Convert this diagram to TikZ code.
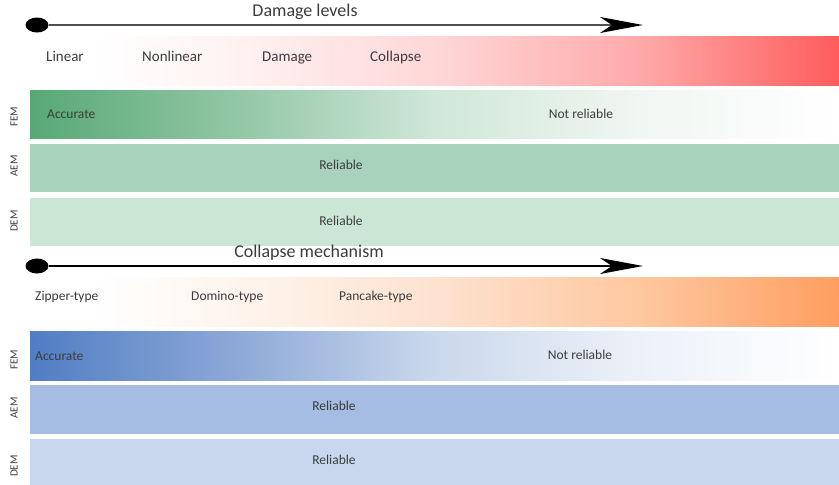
\documentclass[tikz,border=0pt]{standalone}
\usepackage{fontspec}
\setmainfont{Carlito}
\usetikzlibrary{arrows.meta, shapes.geometric}

\definecolor{txtgray}{RGB}{60,60,60}
\definecolor{linegray}{RGB}{80,80,80}
\definecolor{redlow}{RGB}{254,243,242}
\definecolor{redmid}{RGB}{255,215,215}
\definecolor{redhigh}{RGB}{255,170,170}
\definecolor{redend}{RGB}{255,92,92}
\definecolor{orglow}{RGB}{254,245,238}
\definecolor{orgmid}{RGB}{253,226,208}
\definecolor{orghigh}{RGB}{255,200,160}
\definecolor{orgend}{RGB}{255,158,96}
\definecolor{grnfem}{RGB}{88,168,118}
\definecolor{grnlow}{RGB}{145,198,164}
\definecolor{grnmid}{RGB}{208,231,217}
\definecolor{grnhigh}{RGB}{240,246,242}
\definecolor{grnaem}{RGB}{168,210,188}
\definecolor{grndem}{RGB}{204,230,214}
\definecolor{blufem}{RGB}{80,125,196}
\definecolor{blulow}{RGB}{140,168,214}
\definecolor{blumid}{RGB}{202,216,236}
\definecolor{bluhigh}{RGB}{236,241,248}
\definecolor{bluaem}{RGB}{165,189,226}
\definecolor{bludem}{RGB}{200,215,238}

\pgfdeclarehorizontalshading{redband}{100bp}{color(0bp)=(white); color(25bp)=(white);
  color(29bp)=(white); color(37.5bp)=(redlow); color(50bp)=(redmid); color(62.5bp)=(redhigh);
  color(75bp)=(redend); color(100bp)=(redend)}
\pgfdeclarehorizontalshading{orgband}{100bp}{color(0bp)=(white); color(25bp)=(white);
  color(29bp)=(white); color(37.5bp)=(orglow); color(50bp)=(orgmid); color(62.5bp)=(orghigh);
  color(75bp)=(orgend); color(100bp)=(orgend)}
\pgfdeclarehorizontalshading{grnrow}{100bp}{color(0bp)=(grnfem); color(25bp)=(grnfem);
  color(37.5bp)=(grnlow); color(50bp)=(grnmid); color(62.5bp)=(grnhigh);
  color(75bp)=(white); color(100bp)=(white)}
\pgfdeclarehorizontalshading{blurow}{100bp}{color(0bp)=(blufem); color(25bp)=(blufem);
  color(37.5bp)=(blulow); color(50bp)=(blumid); color(62.5bp)=(bluhigh);
  color(75bp)=(white); color(100bp)=(white)}

\begin{document}
\begin{tikzpicture}[x=1pt, y=-1pt,
    band/.style={rectangle, inner sep=0pt, minimum width=809pt, minimum height=49pt},
    rowbox/.style={rectangle, inner sep=0pt, minimum width=809pt, minimum height=48pt},
    txt/.style={text=txtgray, inner sep=0pt, text height=2.2ex, text depth=0.3ex},
    title/.style={txt, font=\fontsize{18}{20}\selectfont},
    level/.style={txt, anchor=west, font=\fontsize{15}{17}\selectfont},
    mech/.style={txt, anchor=west, font=\fontsize{13.5}{15}\selectfont},
    cell/.style={txt, font=\fontsize{13.5}{15}\selectfont},
    side/.style={rotate=90, font=\fontsize{11}{12}\selectfont, text=txtgray, inner sep=0pt},
    dot/.style={ellipse, fill=black, inner sep=0pt, minimum width=23pt, minimum height=15pt}]
  \useasboundingbox (0,0) rectangle (839,485);

  % Damage levels
  \node[title] (dmgtitle) at (305,12) {Damage levels};
  \node[dot] (dot1) at (37,25) {};
  \coordinate (end1) at (643,25);
  \draw[line width=2pt, linegray, -{Stealth[length=43pt, width=16pt, inset=12pt, black]}] (dot1) -- (end1);

  \node[band, shade, shading=redband] (redbar) at (434.5,60.5) {};
  \node[level] (linear) at (46,57) {Linear};
  \node[level] (nonlin) at (142,57) {Nonlinear};
  \node[level] (damage) at (262,57) {Damage};
  \node[level] (collapse) at (370,57) {Collapse};

  % Methods (top)
  \node[rowbox, shade, shading=grnrow] (fema) at (434.5,114) {};
  \node[rowbox, fill=grnaem] (aema) at (434.5,168) {};
  \node[rowbox, fill=grndem] (dema) at (434.5,222) {};
  \node[side] (femla) at (14,117) {FEM};
  \node[side] (aemla) at (14,166) {AEM};
  \node[side] (demla) at (14,221) {DEM};
  \node[cell, anchor=west] (acca) at (47,114) {Accurate};
  \node[cell] (nota) at (581,114) {Not reliable};
  \node[cell] (relaa) at (341,165) {Reliable};
  \node[cell] (relda) at (341,221) {Reliable};

  % Collapse mechanism
  \node[title] (mechtitle) at (309,253) {Collapse mechanism};
  \node[dot] (dot2) at (37,266) {};
  \coordinate (end2) at (643,266);
  \draw[line width=1.5pt, black, -{Stealth[length=43pt, width=16pt, inset=12pt]}] (dot2) -- (end2);

  \node[band, shade, shading=orgband] (orgbar) at (434.5,301.5) {};
  \node[mech] (zipper) at (35,296) {Zipper-type};
  \node[mech] (domino) at (191,296) {Domino-type};
  \node[mech] (pancake) at (339,296) {Pancake-type};

  % Methods (bottom)
  \node[band, shade, shading=blurow] (femb) at (434.5,355.5) {};
  \node[band, fill=bluaem] (aemb) at (434.5,409.5) {};
  \node[band, fill=bludem, minimum height=46pt] (demb) at (434.5,462) {};
  \node[side] (femlb) at (14,360) {FEM};
  \node[side] (aemlb) at (14,408) {AEM};
  \node[side] (demlb) at (14,466) {DEM};
  \node[cell, anchor=west] (accb) at (35,356) {Accurate};
  \node[cell] (notb) at (580,355) {Not reliable};
  \node[cell] (relab) at (334,406) {Reliable};
  \node[cell] (reldb) at (334,460) {Reliable};
\end{tikzpicture}
\end{document}
